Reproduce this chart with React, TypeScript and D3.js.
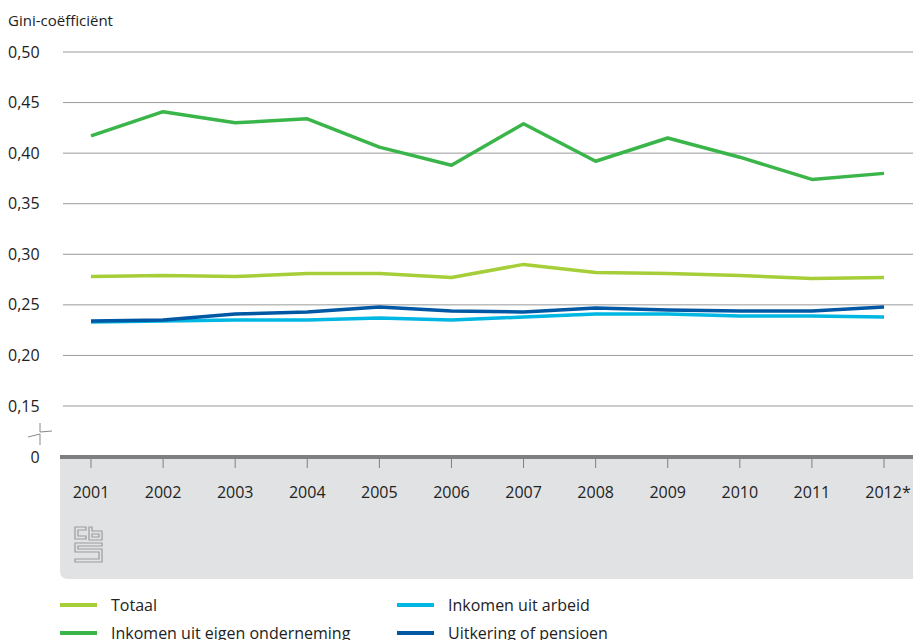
import React from "react";
import * as d3 from "d3";

const years = ["2001","2002","2003","2004","2005","2006","2007","2008","2009","2010","2011","2012*"];
const totaal = [0.278,0.279,0.278,0.281,0.281,0.277,0.290,0.282,0.281,0.279,0.276,0.277];
const eigenOnderneming = [0.417,0.441,0.430,0.434,0.406,0.388,0.429,0.392,0.415,0.396,0.374,0.380];
const arbeid = [0.233,0.234,0.235,0.235,0.237,0.235,0.238,0.241,0.241,0.239,0.239,0.238];
const uitkering = [0.234,0.235,0.241,0.243,0.248,0.244,0.243,0.247,0.245,0.244,0.244,0.248];
const yTicks = [0.15,0.20,0.25,0.30,0.35,0.40,0.45,0.50];

const series = [
  { name: "Totaal", values: totaal, color: "#a6ce39" },
  { name: "Inkomen uit eigen onderneming", values: eigenOnderneming, color: "#3ab54a" },
  { name: "Inkomen uit arbeid", values: arbeid, color: "#00b6e2" },
  { name: "Uitkering of pensioen", values: uitkering, color: "#0058a4" },
];
const drawOrder = [2, 3, 0, 1];
const legendPos = [
  { x: 60, y: 605 }, { x: 60, y: 633 }, { x: 397, y: 605 }, { x: 397, y: 633 },
];

const font = "'Open Sans', sans-serif";

export default function App() {
  const x = d3.scalePoint<string>().domain(years).range([91, 884]);
  const y = d3.scaleLinear().domain([0.15, 0.5]).range([406, 52]);
  const line = d3.line<number>().x((_, i) => x(years[i])!).y((v) => y(v)).curve(d3.curveLinear);
  const fmt = (v: number) => v.toFixed(2).replace(".", ",");

  return (
    <svg width={913} height={640} style={{ position: "absolute", left: 0, top: 0, display: "block" }}
      fontFamily={font}>
      <rect width={913} height={640} fill="#fff" />
      <text x={8} y={26} fontSize={15} fill="#222">Gini-coëfficiënt</text>
      {yTicks.map((t) => (
        <g key={t}>
          <line x1={63} x2={913} y1={y(t)} y2={y(t)} stroke="#9a9a9a" strokeWidth={1} />
          <text x={8} y={y(t)} dy="0.35em" fontSize={16} fill="#222">{fmt(t)}</text>
        </g>
      ))}
      {/* axis break */}
      <path d="M40,423 V432 L52,431 M28,437 L40,434 V445" fill="none" stroke="#888" strokeWidth={1} />
      <text x={35} y={457} dy="0.35em" textAnchor="middle" fontSize={16} fill="#222">0</text>
      {/* panel */}
      <path d="M60,457 H913 V579 H68 Q60,579 60,571 Z" fill="#e1e2e4" />
      <line x1={60} x2={913} y1={457} y2={457} stroke="#7f7f7f" strokeWidth={4} />
      {years.map((yr) => (
        <g key={yr}>
          <line x1={x(yr)} x2={x(yr)} y1={457} y2={468} stroke="#808080" strokeWidth={1} />
          <text x={x(yr)! + (yr.endsWith("*") ? 4 : 0)} y={492} dy="0.35em" textAnchor="middle" fontSize={16} fill="#222">{yr}</text>
        </g>
      ))}
      {/* logo */}
      <g fill="none" stroke="#9b9b9b" strokeWidth={1.2}>
        <path d="M75,527 h11 v3 h-8 v6 h8 v3 h-11 z" />
        <path d="M89,527 h3 v4 h10 v9 h-13 z M92,534 v3 h7 v-3 z" />
        <path d="M75,543 h27 v3 h-24 v3 h24 v13 h-27 v-3 h24 v-7 h-24 z" />
      </g>
      {drawOrder.map((i) => (
        <path key={i} d={line(series[i].values)!} fill="none" stroke={series[i].color}
          strokeWidth={3.5} strokeLinejoin="round" />
      ))}
      {series.map((s, i) => (
        <g key={s.name}>
          <line x1={legendPos[i].x} x2={legendPos[i].x + 37} y1={legendPos[i].y} y2={legendPos[i].y}
            stroke={s.color} strokeWidth={4} />
          <text x={legendPos[i].x + 51} y={legendPos[i].y} dy="0.35em" fontSize={16} fill="#222">{s.name}</text>
        </g>
      ))}
    </svg>
  );
}
